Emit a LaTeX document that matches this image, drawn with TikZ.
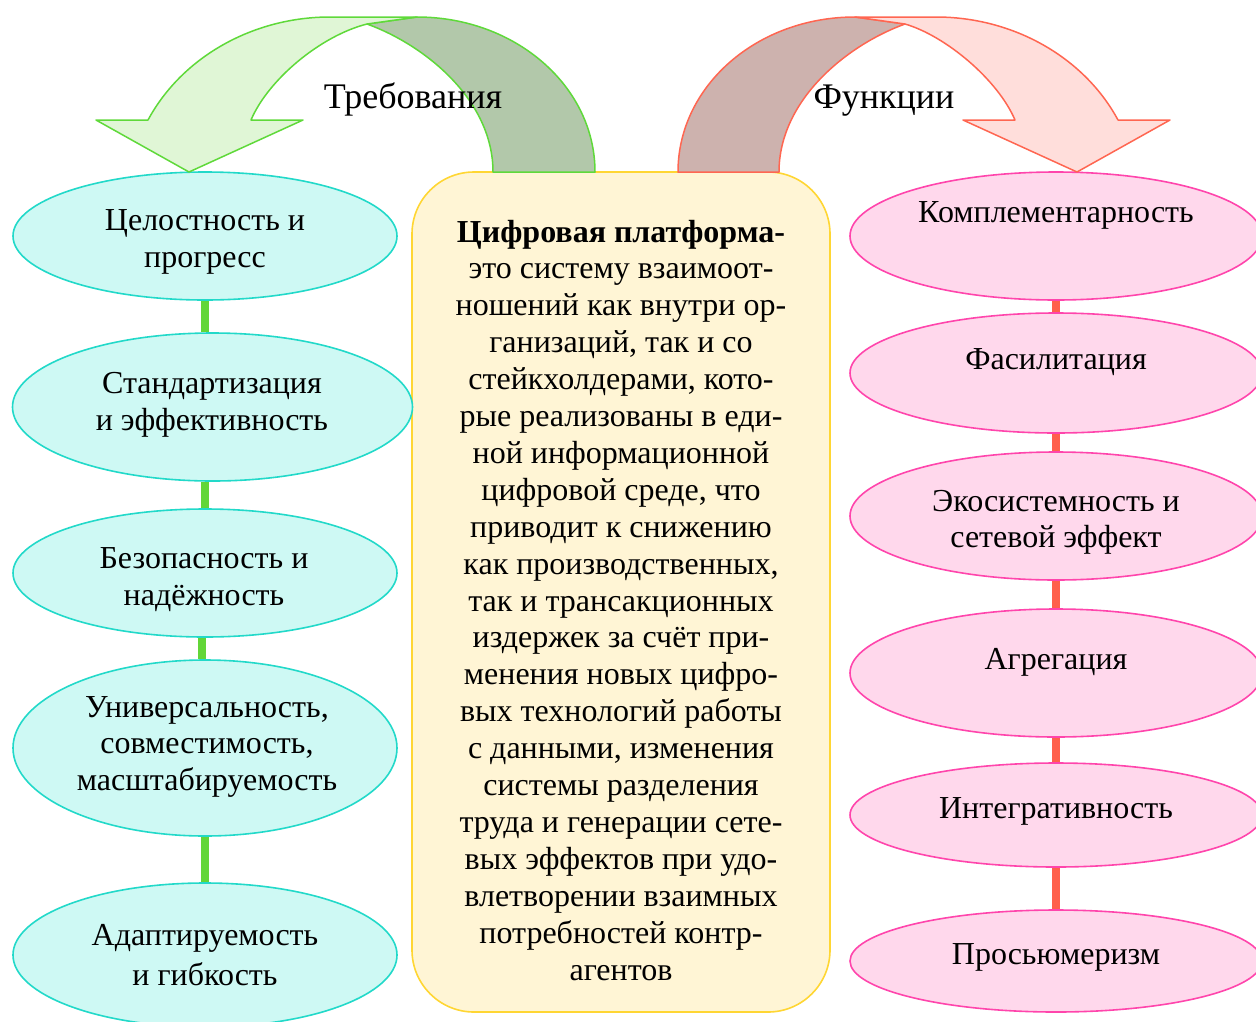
\documentclass[tikz,border=0pt]{standalone}
\usepackage{fontspec}
\setmainfont{Liberation Serif}
\usetikzlibrary{shapes.geometric}
\definecolor{cyfill}{HTML}{CEF9F4}
\definecolor{cyline}{HTML}{22D9C9}
\definecolor{pkfill}{HTML}{FFD8EC}
\definecolor{pkline}{HTML}{FF45AC}
\definecolor{grline}{HTML}{62D638}
\definecolor{rdline}{HTML}{FF604C}
\definecolor{grlight}{HTML}{E0F6D6}
\definecolor{grdark}{HTML}{B2C8AA}
\definecolor{arrgr}{HTML}{5FD93A}
\definecolor{rdlight}{HTML}{FFDEDB}
\definecolor{rddark}{HTML}{CDB2AE}
\definecolor{arrrd}{HTML}{FF6651}
\definecolor{boxfill}{HTML}{FFF5D5}
\definecolor{boxline}{HTML}{FFD633}
\begin{document}
\begin{tikzpicture}[x=1pt,y=-1pt,
  cyell/.style={ellipse, draw=cyline, fill=cyfill, line width=1.6pt, inner sep=0pt},
  pkell/.style={ellipse, draw=pkline, fill=pkfill, line width=1.6pt, inner sep=0pt},
  txt/.style={inner sep=0pt, anchor=base, font=\fontsize{32}{37.5}\selectfont},
  ttl/.style={inner sep=0pt, anchor=base, font=\fontsize{36}{40}\selectfont},
  grcon/.style={draw=grline, line width=8pt},
  rdcon/.style={draw=rdline, line width=8pt},
  grarr/.style={draw=arrgr, line width=1.5pt, line join=round},
  rdarr/.style={draw=arrrd, line width=1.5pt, line join=round},
]
\useasboundingbox (0,0) rectangle (1256,1021);
\clip (0,0) rectangle (1256,1021);

% central box
\node[draw=boxline, fill=boxfill, line width=1.6pt, rounded corners=62pt,
      minimum width=418pt, minimum height=840pt, inner sep=0pt] (box) at (621,592) {};

% left ellipses
\node[cyell, minimum width=384pt, minimum height=128pt] (e1) at (205,236) {};
\node[cyell, minimum width=400pt, minimum height=148pt] (e2) at (212.5,407) {};
\node[cyell, minimum width=384pt, minimum height=128pt] (e3) at (205,573) {};
\node[cyell, minimum width=384pt, minimum height=176pt] (e4) at (205,748) {};
\node[cyell, minimum width=384pt, minimum height=144pt] (e5) at (205,955) {};

% right ellipses
\node[pkell, minimum width=412pt, minimum height=128pt] (r1) at (1056,236) {};
\node[pkell, minimum width=412pt, minimum height=120pt] (r2) at (1056,373) {};
\node[pkell, minimum width=412pt, minimum height=128pt] (r3) at (1056,516) {};
\node[pkell, minimum width=412pt, minimum height=128pt] (r4) at (1056,673) {};
\node[pkell, minimum width=412pt, minimum height=104pt] (r5) at (1056,815) {};
\node[pkell, minimum width=412pt, minimum height=102pt] (r6) at (1056,961) {};

% connectors
\draw[grcon] (e1.south) -- (e1.south |- e2.north);
\draw[grcon] (e1.south |- e2.south) -- (e3.north);
\draw[grcon] ([xshift=-3pt]e3.south) -- ([xshift=-3pt]e3.south |- e4.north);
\draw[grcon] (e4.south) -- (e5.north);
\draw[rdcon] (r1.south) -- (r2.north);
\draw[rdcon] (r2.south) -- (r3.north);
\draw[rdcon] (r3.south) -- (r4.north);
\draw[rdcon] (r4.south) -- (r5.north);
\draw[rdcon] (r5.south) -- (r6.north);

% left curved arrow
\filldraw[fill=grdark, grarr] (493,172) .. controls (493,100) and (425,45) .. (367,24)
  -- (417,17) .. controls (515,17) and (595,86) .. (595,172) -- cycle;
\filldraw[fill=grlight, grarr] (96,120) -- (148,120) .. controls (182,57) and (253,17) .. (330,17)
  -- (417,17) -- (367,24) .. controls (320,36) and (268,80) .. (251,120)
  -- (303,120) -- (189,172) -- cycle;

% right curved arrow
\filldraw[fill=rddark, rdarr] (779,172) .. controls (779,100) and (847,45) .. (905,24)
  -- (855,17) .. controls (757,17) and (678,86) .. (678,172) -- cycle;
\filldraw[fill=rdlight, rdarr] (1170,120) -- (1118,120) .. controls (1084,57) and (1013,17) .. (936,17)
  -- (855,17) -- (905,24) .. controls (946,36) and (998,80) .. (1015,120)
  -- (963,120) -- (1077,172) -- cycle;

% titles
\node[ttl] (treb) at (413,108) {Требования};
\node[ttl] (func) at (884,108) {Функции};

% left texts
\node[txt] (t1) at (205,230) {\parbox[t]{380pt}{\centering Целостность и\\ прогресс}};
\node[txt] (t2) at (212,393) {\parbox[t]{390pt}{\centering Стандартизация\\ и эффективность}};
\node[txt] (t3) at (204,568) {\parbox[t]{380pt}{\centering Безопасность и\\ надёжность}};
\node[txt] (t4) at (207,717) {\parbox[t]{380pt}{\fontsize{32}{36.7}\selectfont\centering Универсальность,\\ совместимость,\\ масштабируемость}};
\node[txt] (t5) at (205,945) {\parbox[t]{380pt}{\fontsize{32}{40}\selectfont\centering Адаптируемость\\ и гибкость}};

% right texts
\node[txt] (s1) at (1056,222) {Комплементарность};
\node[txt] (s2) at (1056,369) {Фасилитация};
\node[txt] (s3) at (1056,511) {\parbox[t]{400pt}{\fontsize{32}{36}\selectfont\centering Экосистемность и\\ сетевой эффект}};
\node[txt] (s4) at (1056,669) {Агрегация};
\node[txt] (s5) at (1056,818) {Интегративность};
\node[txt] (s6) at (1056,964) {Просьюмеризм};

% central text
\node[txt] (bt) at (621,242) {\parbox[t]{410pt}{\fontsize{32}{36.9}\selectfont\centering
\textbf{Цифровая платформа-}\\
это систему взаимоот-\\
ношений как внутри ор-\\
ганизаций, так и со\\
стейкхолдерами, кото-\\
рые реализованы в еди-\\
ной информационной\\
цифровой среде, что\\
приводит к снижению\\
как производственных,\\
так и трансакционных\\
издержек за счёт при-\\
менения новых цифро-\\
вых технологий работы\\
с данными, изменения\\
системы разделения\\
труда и генерации сете-\\
вых эффектов при удо-\\
влетворении взаимных\\
потребностей контр-\\
агентов}};
\end{tikzpicture}
\end{document}
